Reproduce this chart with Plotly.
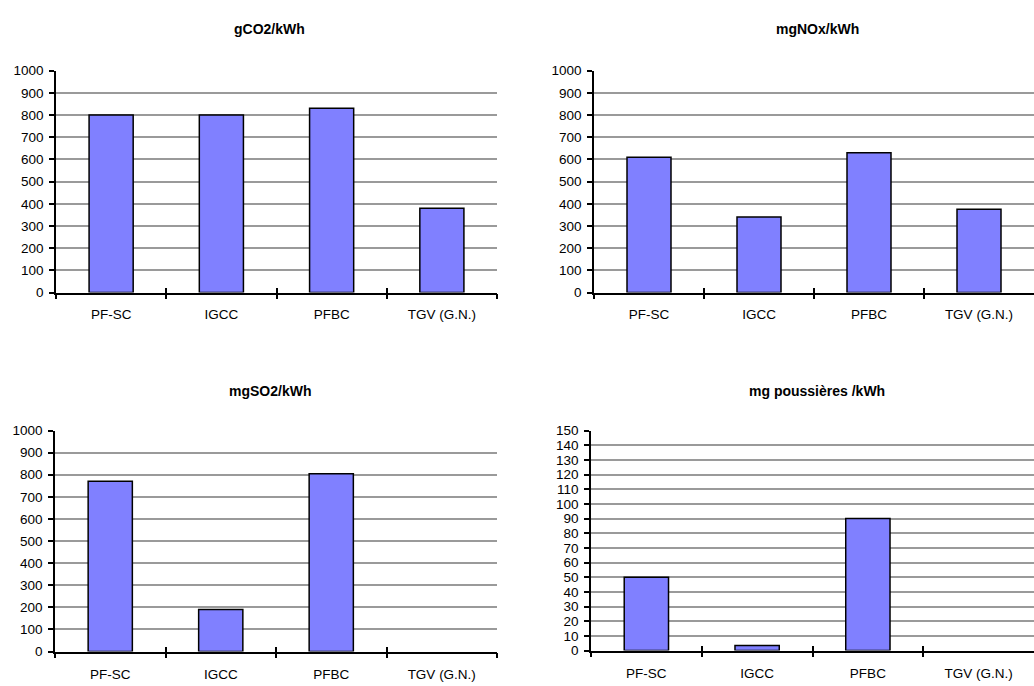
import plotly.graph_objects as go

# Power-plant technologies compared in every panel
categories = ["PF-SC", "IGCC", "PFBC", "TGV (G.N.)"]

# Emissions per kWh produced
co2_g = [800, 800, 830, 380]
nox_mg = [610, 340, 630, 375]
so2_mg = [770, 190, 805, 0]
dust_mg = [50, 3.5, 90, 0]

titles = ["gCO2/kWh", "mgNOx/kWh", "mgSO2/kWh", "mg poussières /kWh"]
series = [co2_g, nox_mg, so2_mg, dust_mg]
y_max = [1000, 1000, 1000, 150]
y_step = [100, 100, 100, 10]

W, H = 1034, 686
# Plot-area boxes in pixels: (left, right, top, bottom)
boxes = [
    (56, 497, 65, 292),
    (594, 1034, 65, 292),
    (55, 497, 433, 659),
    (591, 1034, 433, 658),
]
# Title centres in pixels: (x, y)
title_pos = [(269, 23), (817, 23), (270, 393), (817, 393)]
# Gap between the category axis and its labels
label_gap = [8, 8, 9, 9]

FONT = "Liberation Sans, Arial, sans-serif"
fig = go.Figure()

for i, (vals, title, ymax, step, box, tpos, gap) in enumerate(
        zip(series, titles, y_max, y_step, boxes, title_pos, label_gap)):
    n = i + 1
    xa = "x" if n == 1 else f"x{n}"
    ya = "y" if n == 1 else f"y{n}"
    xo = f"x{n + 4}"
    left, right, top, bottom = box
    xdom = [left / W, right / W]
    ydom = [1 - bottom / H, 1 - top / H]

    fig.add_trace(go.Bar(
        x=categories, y=vals, xaxis=xa, yaxis=ya,
        marker=dict(color="#8080FF",
                    line=dict(color="black", width=[1.5 if v else 0 for v in vals])),
        width=0.4, showlegend=False, hoverinfo="x+y",
    ))
    # invisible companion trace so the overlay axis draws the upward half of the ticks
    fig.add_trace(go.Scatter(
        x=categories, y=vals, xaxis=xo, yaxis=ya, mode="markers",
        marker=dict(opacity=0), showlegend=False, hoverinfo="skip",
    ))

    fig.layout[f"xaxis{'' if n == 1 else n}"] = dict(
        domain=xdom, anchor=ya, type="category", categoryorder="array",
        categoryarray=categories, range=[-0.5, 3.5],
        showline=True, linecolor="black", linewidth=1.5,
        ticks="outside", ticklen=5, tickwidth=1.5, tickcolor="black",
        tickson="boundaries", showgrid=False, zeroline=False,
        tickfont=dict(family=FONT, size=13.5, color="black"),
        ticklabelstandoff=gap,
    )
    fig.layout[f"xaxis{n + 4}"] = dict(
        domain=xdom, anchor=ya, overlaying=xa, type="category",
        categoryorder="array", categoryarray=categories, range=[-0.5, 3.5],
        showline=False, ticks="inside", ticklen=5, tickwidth=1.5,
        tickcolor="black", tickson="boundaries", showgrid=False,
        zeroline=False, showticklabels=False,
    )
    fig.layout[f"yaxis{'' if n == 1 else n}"] = dict(
        domain=ydom, anchor=xa, range=[0, ymax], dtick=step, tick0=0,
        showline=True, linecolor="black", linewidth=1.5,
        ticks="outside", ticklen=5, tickwidth=1.5, tickcolor="black",
        showgrid=True, gridcolor="#9a9a9a", gridwidth=1.5, zeroline=False,
        tickfont=dict(family=FONT, size=13.5, color="black"),
        ticklabelstandoff=3,
    )
    fig.add_annotation(
        text=f"<b>{title}</b>", xref="paper", yref="paper",
        x=tpos[0] / W, y=1 - tpos[1] / H,
        showarrow=False, xanchor="center", yanchor="middle",
        font=dict(family=FONT, size=14, color="black"),
    )

fig.update_layout(
    width=W, height=H, margin=dict(l=0, r=0, t=0, b=0),
    paper_bgcolor="white", plot_bgcolor="white", bargap=0.6,
)

fig.write_html("out.html")
